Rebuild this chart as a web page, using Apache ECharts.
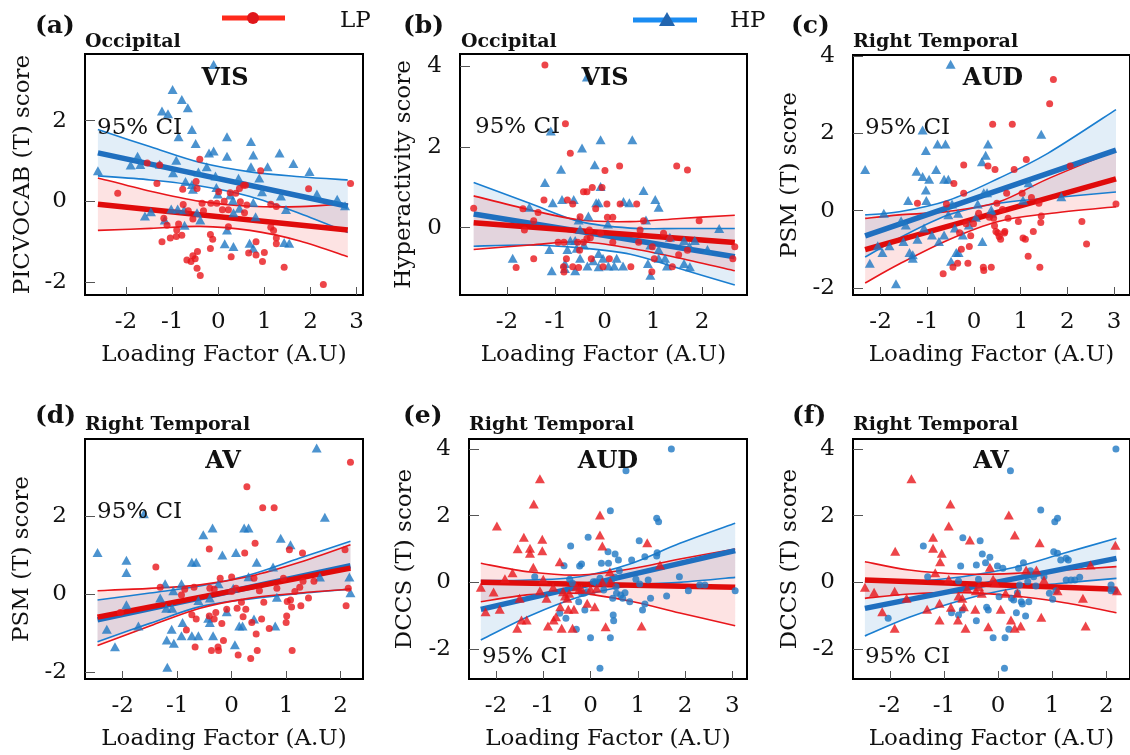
<!DOCTYPE html>
<html>
<head>
<meta charset="utf-8">
<script src="https://cdn.jsdelivr.net/npm/echarts@6/dist/echarts.min.js"></script>
<style>
  html, body { margin: 0; padding: 0; background: #fff; }
  #chart { width: 1130px; height: 755px; }
</style>
</head>
<body>
<div id="chart"></div>
<script>
// ---------- panel (a): Occipital / VIS, PICVOCAB ----------
const lpA = [[-2.18,0.20],[-1.54,0.95],[-1.33,0.44],[-1.27,0.90],[-1.22,-1.00],[-1.18,-0.42],[-1.11,-0.59],[-1.04,-0.91],[-0.91,-0.87],[-0.90,-0.71],[-0.86,-0.56],[-0.79,-0.84],[-0.77,0.30],[-0.76,-0.08],[-0.68,-1.45],[-0.59,-1.49],[-0.55,-1.35],[-0.50,-1.42],[-0.46,-1.66],[-0.39,-1.84],[-0.45,-1.24],[-0.65,-0.23],[-0.55,-0.44],[-0.48,0.49],[-0.46,0.32],[-0.40,1.04],[-0.35,-0.05],[-0.32,-0.23],[-0.17,-0.82],[-0.17,-1.17],[-0.12,-0.94],[-0.16,-0.05],[-0.03,-0.05],[0.01,0.24],[0.09,-0.21],[0.13,0.00],[0.22,-0.21],[0.22,-0.63],[0.26,0.21],[0.28,-1.37],[0.38,0.20],[0.46,0.32],[0.48,-0.01],[0.55,0.40],[0.59,0.40],[0.57,-0.28],[0.62,-0.09],[0.66,-1.28],[0.82,-1.33],[0.82,-1.00],[0.92,0.76],[0.96,-1.49],[1.00,-1.27],[1.14,-0.07],[1.14,-0.64],[1.20,-0.72],[1.26,-0.91],[1.26,-1.05],[1.26,-0.13],[1.43,-1.63],[1.96,0.31],[2.28,-2.06],[2.87,0.44]];
const hpA = [[-2.61,0.76],[-1.75,1.12],[-1.90,0.90],[-1.69,0.91],[-1.59,-0.36],[-1.46,-0.26],[-1.27,0.92],[-1.22,2.24],[-1.09,2.17],[-0.99,2.77],[-0.79,2.52],[-0.66,2.32],[-0.57,1.78],[-0.86,1.60],[-0.49,1.43],[-0.91,1.02],[-0.98,0.71],[-1.16,-0.46],[-1.02,-0.19],[-0.88,-0.19],[-0.74,-0.21],[-0.73,-0.59],[-0.57,0.42],[-0.55,0.30],[-0.46,-0.28],[-0.39,-0.46],[-0.43,0.73],[-0.25,0.86],[-0.20,1.20],[-0.10,1.25],[-0.10,3.39],[-0.06,0.63],[-0.04,0.34],[-0.01,0.18],[0.19,1.60],[0.19,1.12],[0.14,-1.05],[0.19,-0.71],[0.33,-1.12],[0.26,0.16],[0.32,0.03],[0.33,-0.28],[0.44,0.57],[0.46,-0.17],[0.71,1.48],[0.76,1.15],[0.71,0.86],[0.89,0.58],[0.95,0.24],[0.76,-0.03],[0.81,-0.38],[0.68,-1.04],[0.76,-1.16],[1.07,0.86],[1.33,1.20],[1.63,0.94],[1.36,0.13],[1.47,-0.20],[1.43,-1.02],[1.54,-1.04],[1.98,0.74],[2.14,0.18],[2.58,0.05],[2.75,-0.11],[-0.71,0.49]];
const ciXA = [-2.61,-1.47,-0.39,0.69,1.77,2.81];
const lpFitA = [-0.07,-0.71];
const lpUpperA = [0.58,0.25,0.00,-0.12,-0.13,-0.06];
const lpLowerA = [-0.72,-0.67,-0.62,-0.72,-0.98,-1.37];
const hpFitA = [1.20,-0.12];
const hpUpperA = [1.78,1.35,0.96,0.73,0.61,0.53];
const hpLowerA = [0.63,0.53,0.38,0.12,-0.30,-0.77];
const xTicksA = [-2,-1,0,1,2,3];
const yTicksA = [-2,0,2];

// ---------- panel (b): Occipital / VIS, Hyperactivity ----------
const lpB = [[-2.68,0.48],[-1.81,-0.99],[-1.67,0.47],[-1.64,-0.06],[-1.45,0.17],[-1.45,-0.77],[-1.36,0.38],[-1.24,0.69],[-1.22,4.04],[-0.95,-0.36],[-0.83,-0.36],[-0.80,2.58],[-0.78,-0.77],[-0.84,-0.97],[-0.83,-1.10],[-0.76,0.69],[-0.70,1.85],[-0.65,0.59],[-0.65,-0.97],[-0.55,-0.36],[-0.51,-0.56],[-0.50,0.27],[-0.53,-0.99],[-0.43,0.89],[-0.36,0.89],[-0.43,-0.36],[-0.36,-0.27],[-0.29,-0.25],[-0.31,-0.06],[-0.27,-0.77],[-0.25,1.00],[-0.18,0.47],[-0.08,-0.14],[-0.05,1.00],[0.01,1.42],[0.05,0.59],[0.06,0.26],[-0.03,-0.97],[0.10,-0.77],[0.17,0.26],[0.17,-0.36],[0.31,1.53],[0.32,0.59],[0.54,-0.97],[0.66,0.59],[0.70,-0.36],[0.73,-0.06],[0.80,0.17],[0.98,-0.47],[0.97,-1.09],[1.02,-0.77],[1.21,-0.14],[1.34,-0.27],[1.39,-0.97],[1.48,1.53],[1.52,-0.67],[1.70,1.43],[1.70,-0.56],[1.94,0.17],[2.63,-0.77],[2.67,-0.47]];
const hpB = [[-1.88,-0.76],[-1.54,0.51],[-1.22,1.12],[-1.13,-0.54],[-1.08,-1.07],[-1.10,2.40],[-1.06,0.62],[-0.89,1.45],[-0.87,0.70],[-0.81,-0.89],[-0.81,-1.01],[-0.76,-0.54],[-0.63,0.70],[-0.70,-0.32],[-0.60,-0.32],[-0.60,-1.07],[-0.57,-0.51],[-0.53,0.19],[-0.50,-0.04],[-0.46,1.98],[-0.50,-0.76],[-0.42,-0.43],[-0.35,-0.95],[-0.33,0.29],[-0.23,-0.82],[-0.20,1.56],[-0.17,0.62],[-0.12,0.62],[-0.12,-0.64],[-0.12,-0.97],[-0.08,2.18],[-0.08,1.02],[-0.03,-0.76],[0.07,0.09],[0.08,-0.95],[0.20,-0.95],[0.25,-0.76],[0.38,-0.95],[0.39,0.65],[0.51,0.62],[0.57,2.18],[0.80,0.92],[0.85,0.19],[0.89,-0.89],[0.94,-1.18],[0.94,-0.43],[1.04,0.70],[1.11,0.51],[1.11,-0.54],[1.11,-0.76],[1.24,-0.76],[1.28,-0.95],[1.34,-0.24],[1.63,-0.32],[1.63,-0.89],[1.75,-0.97],[1.85,-0.32],[2.11,-0.54],[2.35,-0.02],[1.74,-0.46],[-0.36,3.74]];
const ciXB = [-2.68,-1.52,-0.50,0.53,1.55,2.67];
const lpFitB = [0.12,-0.37];
const lpUpperB = [0.79,0.44,0.19,0.15,0.23,0.31];
const lpLowerB = [-0.54,-0.43,-0.35,-0.51,-0.76,-1.07];
const hpFitB = [0.34,-0.72];
const hpUpperB = [1.12,0.60,0.15,-0.01,-0.02,-0.02];
const hpLowerB = [-0.46,-0.43,-0.50,-0.66,-1.02,-1.42];
const xTicksB = [-2,-1,0,1,2];
const yTicksB = [0,2,4];

// ---------- panel (c): Right Temporal / AUD, PSM ----------
const lpC = [[-1.21,0.19],[-0.66,-1.63],[-0.59,0.17],[-0.45,-1.46],[-0.43,0.70],[-0.35,-1.36],[-0.27,-1.00],[-0.31,-0.57],[-0.22,1.18],[-0.22,0.45],[-0.13,-1.36],[-0.10,-0.93],[-0.07,-0.65],[-0.17,-0.34],[-0.01,-0.34],[0.10,-0.07],[0.20,-1.46],[0.21,-1.55],[0.30,1.15],[0.33,-0.17],[0.37,-1.46],[0.40,2.23],[0.42,-0.20],[0.45,1.06],[0.44,-0.39],[0.47,-0.54],[0.49,0.19],[0.51,-0.58],[0.54,-0.67],[0.57,-0.74],[0.61,0.03],[0.65,-0.58],[0.66,-0.54],[0.70,0.45],[0.73,-0.20],[0.82,2.23],[0.86,1.06],[0.95,-0.28],[1.03,0.45],[1.05,-0.71],[1.10,-0.74],[1.12,1.32],[1.16,-1.18],[1.23,0.34],[1.27,-0.54],[1.39,0.19],[1.41,-1.46],[1.44,-0.14],[1.43,-0.31],[1.62,2.76],[1.70,3.39],[2.06,1.15],[2.31,-0.28],[2.41,-0.86],[3.04,0.17]];
const hpC = [[-2.33,1.06],[-2.23,-1.36],[-2.06,-0.91],[-1.96,-1.08],[-1.93,-0.07],[-1.81,-0.91],[-1.67,-1.89],[-1.56,-0.26],[-1.51,-0.80],[-1.46,-0.37],[-1.41,0.26],[-1.38,-1.08],[-1.31,-1.23],[-1.31,-1.14],[-1.23,1.02],[-1.21,-0.74],[-1.10,0.88],[-1.07,-0.45],[-1.03,1.55],[-1.03,0.53],[-1.02,0.26],[-0.96,0.81],[-1.10,2.08],[-0.90,-0.63],[-0.81,1.06],[-0.78,1.72],[-0.75,-0.80],[-0.64,0.81],[-0.61,1.72],[-0.64,-0.63],[-0.55,0.81],[-0.50,3.78],[-0.55,-0.11],[-0.49,-1.31],[-0.47,0.17],[-0.41,-0.45],[-0.38,-1.08],[-0.33,-1.08],[-0.34,-0.07],[-0.24,-0.63],[-0.11,-0.37],[0.04,-0.17],[0.08,0.17],[0.17,1.26],[0.18,-0.80],[0.21,0.46],[0.25,1.43],[0.30,1.72],[0.28,0.46],[0.37,0.02],[0.38,-0.07],[1.17,0.72],[1.05,0.27],[1.44,1.97],[1.87,0.36]];
const ciXC = [-2.33,-1.60,-0.54,0.52,1.58,3.04];
const lpFitC = [-1.01,0.82];
const lpUpperC = [-0.20,-0.11,-0.02,0.22,0.82,1.55];
const lpLowerC = [-1.87,-1.38,-0.75,-0.28,-0.08,0.10];
const hpFitC = [-0.65,1.56];
const hpUpperC = [-0.11,-0.03,0.27,0.83,1.48,2.61];
const hpLowerC = [-1.20,-0.71,-0.11,0.19,0.32,0.48];
const xTicksC = [-2,-1,0,1,2,3];
const yTicksC = [-2,0,2,4];

// ---------- panel (d): Right Temporal / AV, PSM ----------
const lpD = [[-2.04,-0.47],[-1.39,0.70],[-1.31,0.18],[-0.92,-0.02],[-0.86,0.13],[-0.83,-0.92],[-0.73,-0.53],[-0.69,0.18],[-0.67,-1.36],[-0.65,-0.64],[-0.41,1.16],[-0.41,-0.56],[-0.40,0.15],[-0.37,-1.45],[-0.32,-0.64],[-0.32,0.13],[-0.29,-0.47],[-0.25,-1.36],[-0.24,-1.45],[-0.21,0.41],[-0.18,-0.75],[-0.15,-1.19],[-0.09,-0.39],[0.00,0.44],[0.00,0.07],[0.08,0.15],[0.10,-0.36],[0.12,-1.56],[0.18,-0.21],[0.21,-0.58],[0.24,1.06],[0.26,-0.39],[0.28,2.76],[0.35,-1.65],[0.37,-0.73],[0.41,0.41],[0.43,1.31],[0.45,-1.02],[0.47,-1.45],[0.51,0.09],[0.55,-0.64],[0.57,2.22],[0.59,-0.21],[0.69,-0.88],[0.78,2.22],[0.83,0.15],[0.95,0.41],[1.00,-0.73],[1.01,-0.56],[1.02,-0.19],[1.06,1.14],[1.08,-0.15],[1.10,-0.33],[1.11,-1.45],[1.16,0.07],[1.25,0.18],[1.27,-0.30],[1.31,0.33],[1.30,1.06],[1.41,-0.10],[1.51,0.33],[2.08,1.14],[2.10,-0.30],[2.14,0.15],[2.18,3.39]];
const hpD = [[-2.46,1.07],[-2.29,-0.90],[-2.14,-1.35],[-1.93,0.87],[-1.93,0.56],[-1.93,-0.27],[-1.71,-0.82],[-1.61,2.07],[-1.31,-0.10],[-1.22,0.27],[-1.20,-0.36],[-1.19,-1.18],[-1.18,-1.88],[-1.10,-0.90],[-1.09,-0.36],[-1.07,0.09],[-1.06,-1.26],[-0.92,0.27],[-0.92,-1.07],[-0.90,-0.73],[-0.73,0.82],[-0.65,0.82],[-0.73,-1.07],[-0.61,-1.07],[-0.61,-0.16],[-0.52,1.53],[-0.43,-0.62],[-0.40,-0.73],[-0.40,-0.10],[-0.35,1.70],[-0.34,-1.07],[-0.24,0.27],[-0.17,1.01],[-0.09,-0.45],[0.03,0.15],[0.06,-1.30],[0.08,1.07],[0.14,-0.82],[0.20,-0.82],[0.23,1.70],[0.31,1.70],[0.31,0.45],[0.41,-0.64],[0.46,0.82],[0.76,0.70],[0.80,-0.82],[0.83,-0.08],[0.90,1.44],[1.08,1.27],[1.56,3.76],[1.62,0.44],[1.71,1.98],[2.16,0.44],[2.18,0.04]];
const ciXD = [-2.46,-1.50,-0.58,0.34,1.25,2.18];
const lpFitD = [-0.59,0.67];
const lpUpperD = [0.09,0.15,0.24,0.46,0.82,1.27];
const lpLowerD = [-1.32,-0.82,-0.36,-0.10,0.03,0.13];
const hpFitD = [-0.66,0.73];
const hpUpperD = [-0.15,0.03,0.21,0.50,0.93,1.36];
const hpLowerD = [-1.22,-0.75,-0.32,-0.12,0.02,0.13];
const xTicksD = [-2,-1,0,1,2];
const yTicksD = [-2,0,2,4];

// ---------- panel (e): Right Temporal / AUD, DCCS ----------
const lpE = [[-2.32,-0.15],[-2.22,-0.88],[-2.05,-0.29],[-1.98,1.69],[-1.92,-0.81],[-1.81,0.11],[-1.65,0.29],[-1.55,-1.38],[-1.54,1.01],[-1.50,-0.48],[-1.46,-1.13],[-1.41,1.35],[-1.35,-1.13],[-1.28,1.02],[-1.28,0.87],[-1.21,0.45],[-1.20,2.35],[-1.07,3.11],[-1.07,-0.25],[-1.02,1.29],[-1.02,0.95],[-1.00,0.09],[-0.93,-0.48],[-0.90,-1.31],[-0.79,-0.15],[-0.78,-1.13],[-0.73,-1.03],[-0.65,0.62],[-0.64,-0.73],[-0.61,-1.38],[-0.58,-0.28],[-0.54,-0.41],[-0.49,-0.48],[-0.47,-0.81],[-0.45,-0.33],[-0.38,-1.38],[-0.35,-0.81],[-0.30,-0.13],[-0.24,-0.21],[-0.19,-0.21],[-0.07,-0.63],[0.00,-0.21],[0.09,-0.73],[0.13,-0.18],[0.20,2.02],[0.20,1.42],[0.25,1.09],[0.25,0.02],[0.32,-1.33],[0.41,0.32],[0.42,0.02],[1.08,-1.31],[1.20,1.19],[1.47,0.52]];
const hpE = [[-1.18,0.17],[-0.65,-0.93],[-0.56,0.50],[-0.52,-1.08],[-0.42,1.09],[-0.44,0.09],[-0.38,-0.03],[-0.30,-1.41],[-0.25,-0.58],[-0.23,0.49],[-0.19,0.55],[-0.19,-0.33],[-0.12,-0.83],[-0.14,-0.33],[-0.07,-0.28],[-0.05,1.35],[0.00,-1.66],[0.11,0.02],[0.13,-0.03],[0.20,-2.58],[0.23,0.57],[0.28,-0.23],[0.31,-0.03],[0.37,0.92],[0.38,0.57],[0.42,2.15],[0.42,-1.66],[0.45,0.09],[0.47,-0.48],[0.48,-0.98],[0.49,-1.15],[0.52,0.85],[0.52,0.15],[0.54,-0.13],[0.55,-0.33],[0.59,0.67],[0.61,0.35],[0.64,-0.38],[0.68,-0.48],[0.73,-0.31],[0.75,3.35],[0.83,-0.58],[0.87,0.67],[0.96,0.09],[1.03,1.25],[1.04,-0.05],[1.10,-0.83],[1.15,0.77],[1.15,-0.65],[1.22,0.07],[1.27,-0.48],[1.40,1.92],[1.44,1.82],[1.40,0.79],[1.41,0.89],[1.61,-0.41],[1.71,4.00],[1.88,0.17],[2.07,-0.25],[2.31,-0.08],[2.42,-0.08],[3.06,-0.25],[0.20,0.12],[0.06,0.02]];
const ciXE = [-2.32,-1.28,-0.23,0.83,1.89,3.06];
const lpFitE = [0.00,-0.15];
const lpUpperE = [0.57,0.31,0.22,0.40,0.70,1.00];
const lpLowerE = [-0.58,-0.37,-0.33,-0.56,-0.92,-1.30];
const hpFitE = [-0.81,0.95];
const hpUpperE = [0.05,0.07,0.17,0.55,1.17,1.77];
const hpLowerE = [-1.73,-1.00,-0.43,-0.10,0.00,0.15];
const xTicksE = [-2,-1,0,1,2,3];
const yTicksE = [-2,0,2,4];

// ---------- panel (f): Right Temporal / AV, DCCS ----------
const lpF = [[-2.46,-0.15],[-2.29,-0.30],[-2.14,-0.88],[-1.91,-0.27],[-1.91,-1.38],[-1.90,0.93],[-1.69,-0.48],[-1.60,3.11],[-1.31,-0.81],[-1.20,1.35],[-1.20,1.02],[-1.16,0.29],[-1.08,-0.63],[-1.08,-1.13],[-1.07,0.62],[-1.04,0.87],[-0.91,0.09],[-0.91,1.69],[-0.88,2.35],[-0.87,-0.75],[-0.74,-1.13],[-0.73,-0.41],[-0.66,-0.48],[-0.63,-0.73],[-0.60,-1.38],[-0.57,-0.18],[-0.52,1.27],[-0.42,-0.81],[-0.41,-0.25],[-0.35,-0.13],[-0.30,-0.33],[-0.18,-1.33],[-0.15,0.45],[-0.09,0.09],[-0.05,-0.01],[0.05,-0.81],[0.14,-0.33],[0.20,2.02],[0.24,-1.13],[0.31,1.42],[0.31,-1.38],[0.36,-0.33],[0.42,-1.31],[0.52,0.37],[0.71,0.37],[0.77,1.19],[0.80,-1.05],[0.85,0.07],[1.10,-0.25],[1.57,-0.48],[1.62,-1.31],[1.71,0.52],[2.17,1.11],[2.20,-0.25]];
const hpF = [[-2.03,-1.08],[-1.38,1.09],[-1.30,0.17],[-0.86,-0.91],[-0.73,0.04],[-0.73,-0.98],[-0.69,0.49],[-0.66,-0.83],[-0.65,1.34],[-0.40,0.52],[-0.40,-1.15],[-0.36,0.09],[-0.33,1.25],[-0.29,0.85],[-0.23,0.59],[-0.21,-0.75],[-0.18,-0.83],[-0.15,0.75],[-0.09,-1.66],[-0.01,0.49],[0.02,-0.43],[0.09,0.42],[0.12,-2.58],[0.13,-1.66],[0.20,-1.41],[0.23,3.35],[0.25,-0.48],[0.29,-0.53],[0.34,-0.91],[0.36,-0.31],[0.38,0.42],[0.40,-0.08],[0.43,-0.58],[0.45,-0.65],[0.47,0.59],[0.51,-1.01],[0.55,0.02],[0.57,-0.58],[0.60,0.35],[0.66,0.17],[0.70,-0.11],[0.79,2.17],[0.85,0.17],[0.95,-0.33],[1.01,-0.51],[1.03,0.92],[1.05,1.82],[1.07,-0.25],[1.10,1.92],[1.10,0.87],[1.16,0.67],[1.26,0.72],[1.30,0.67],[1.26,0.07],[1.35,0.07],[1.42,0.07],[1.51,0.15],[2.09,-0.08],[2.09,-0.25],[2.16,-0.25],[2.18,4.00]];
const ciXF = [-2.46,-1.64,-0.66,0.31,1.23,2.19];
const lpFitF = [0.07,-0.21];
const lpUpperF = [0.62,0.37,0.25,0.27,0.37,0.47];
const lpLowerF = [-0.48,-0.35,-0.31,-0.41,-0.61,-0.91];
const hpFitF = [-0.78,0.72];
const hpUpperF = [0.02,0.02,0.17,0.45,0.88,1.32];
const hpLowerF = [-1.61,-1.05,-0.53,-0.18,-0.02,0.12];
const xTicksF = [-2,-1,0,1,2];
const yTicksF = [-2,0,2,4];

// ---------- panel texts ----------
const panelLetters = ['(a)','(b)','(c)','(d)','(e)','(f)'];
const regionNames = ['Occipital','Occipital','Right Temporal','Right Temporal','Right Temporal','Right Temporal'];
const networkNames = ['VIS','VIS','AUD','AV','AUD','AV'];
const yAxisNames = ['PICVOCAB (T) score','Hyperactivity score','PSM (T) score','PSM (T) score','DCCS (T) score','DCCS (T) score'];
const xAxisName = 'Loading Factor (A.U)';
const groupNames = ['LP','HP'];

const panelData = [
  { lp: lpA, hp: hpA, ciX: ciXA, lpFit: lpFitA, lpUp: lpUpperA, lpLo: lpLowerA, hpFit: hpFitA, hpUp: hpUpperA, hpLo: hpLowerA, xt: xTicksA, yt: yTicksA },
  { lp: lpB, hp: hpB, ciX: ciXB, lpFit: lpFitB, lpUp: lpUpperB, lpLo: lpLowerB, hpFit: hpFitB, hpUp: hpUpperB, hpLo: hpLowerB, xt: xTicksB, yt: yTicksB },
  { lp: lpC, hp: hpC, ciX: ciXC, lpFit: lpFitC, lpUp: lpUpperC, lpLo: lpLowerC, hpFit: hpFitC, hpUp: hpUpperC, hpLo: hpLowerC, xt: xTicksC, yt: yTicksC },
  { lp: lpD, hp: hpD, ciX: ciXD, lpFit: lpFitD, lpUp: lpUpperD, lpLo: lpLowerD, hpFit: hpFitD, hpUp: hpUpperD, hpLo: hpLowerD, xt: xTicksD, yt: yTicksD },
  { lp: lpE, hp: hpE, ciX: ciXE, lpFit: lpFitE, lpUp: lpUpperE, lpLo: lpLowerE, hpFit: hpFitE, hpUp: hpUpperE, hpLo: hpLowerE, xt: xTicksE, yt: yTicksE },
  { lp: lpF, hp: hpF, ciX: ciXF, lpFit: lpFitF, lpUp: lpUpperF, lpLo: lpLowerF, hpFit: hpFitF, hpUp: hpUpperF, hpLo: hpLowerF, xt: xTicksF, yt: yTicksF }
];

// ---------- layout & style ----------
const FONT = '"DejaVu Serif", serif';
const RED = '#e8161b', BLUE = '#1f78c3';
const RED_FIT = '#e00b0b', BLUE_FIT = '#1f6fbf';
const RED_CI = '#e8161b', BLUE_CI = '#1a7ed0';
const RED_FILL = 'rgba(240,40,40,0.13)', BLUE_FILL = 'rgba(31,125,200,0.13)';

const layout = [
  { left: 85,  top: 54,  width: 278, height: 241, x: [-2.89, 3.14], y: [-2.32, 3.65], yGap: 50, lpSym: 'circle', hpSym: 'triangle',
    letter: [35, 26], region: [85, 42], net: [225, 79], ci: [97, 128] },
  { left: 460, top: 54,  width: 287, height: 241, x: [-2.96, 2.92], y: [-1.67, 4.31], yGap: 44, lpSym: 'circle', hpSym: 'triangle',
    letter: [403, 26], region: [461, 42], net: [605, 79], ci: [475, 127] },
  { left: 853, top: 55,  width: 280, height: 240, x: [-2.59, 3.34], y: [-2.18, 4.02], yGap: 51, lpSym: 'circle', hpSym: 'triangle',
    letter: [791, 26], region: [853, 42], net: [993, 79], ci: [865, 128] },
  { left: 85,  top: 439, width: 278, height: 240, x: [-2.69, 2.41], y: [-2.18, 3.99], yGap: 51, lpSym: 'circle', hpSym: 'triangle',
    letter: [35, 416], region: [85, 425], net: [223, 462], ci: [97, 512] },
  { left: 469, top: 439, width: 278, height: 240, x: [-2.57, 3.31], y: [-2.90, 4.30], yGap: 52, lpSym: 'triangle', hpSym: 'circle',
    letter: [403, 416], region: [469, 425], net: [608, 462], ci: [482, 657] },
  { left: 853, top: 439, width: 280, height: 240, x: [-2.68, 2.44], y: [-2.90, 4.30], yGap: 51, lpSym: 'triangle', hpSym: 'circle',
    letter: [792, 416], region: [853, 425], net: [991, 462], ci: [865, 657] }
];

// Catmull-Rom curve through pixel points as cubic bezier segments
function curveSegs(pts) {
  let d = '';
  const n = pts.length;
  for (let i = 0; i < n - 1; i++) {
    const p0 = pts[Math.max(i - 1, 0)], p1 = pts[i], p2 = pts[i + 1], p3 = pts[Math.min(i + 2, n - 1)];
    const c = [p1[0] + (p2[0] - p0[0]) / 6, p1[1] + (p2[1] - p0[1]) / 6,
               p2[0] - (p3[0] - p1[0]) / 6, p2[1] - (p3[1] - p1[1]) / 6, p2[0], p2[1]];
    d += ' C' + c.map(v => v.toFixed(2)).join(' ');
  }
  return d;
}
function moveTo(p) { return 'M' + p[0].toFixed(2) + ' ' + p[1].toFixed(2); }

// Confidence band: filled region between lower and upper bounds plus both bound curves
function bandRenderer(fill, stroke) {
  return function (params, api) {
    if (params.dataIndexInside !== 0) return null;
    const n = params.dataInsideLength;
    const up = [], lo = [];
    for (let j = 0; j < n; j++) {
      const x = api.value(0, j);
      lo.push(api.coord([x, api.value(1, j)]));
      up.push(api.coord([x, api.value(2, j)]));
    }
    const loRev = lo.slice().reverse();
    const area = moveTo(up[0]) + curveSegs(up) + ' L' + loRev[0][0].toFixed(2) + ' ' + loRev[0][1].toFixed(2) + curveSegs(loRev) + ' Z';
    return {
      type: 'group',
      children: [
        { type: 'path', z2: 0, shape: { pathData: area }, style: { fill: fill, stroke: null } },
        { type: 'path', z2: 10, shape: { pathData: moveTo(up[0]) + curveSegs(up) }, style: { fill: null, stroke: stroke, lineWidth: 1.6 } },
        { type: 'path', z2: 10, shape: { pathData: moveTo(lo[0]) + curveSegs(lo) }, style: { fill: null, stroke: stroke, lineWidth: 1.6 } }
      ]
    };
  };
}

const grids = [], xAxes = [], yAxes = [], series = [], graphics = [];

panelData.forEach((p, i) => {
  const L = layout[i];
  grids.push({ left: L.left, top: L.top, width: L.width, height: L.height, show: true,
               borderColor: '#000', borderWidth: 2, backgroundColor: 'transparent' });
  xAxes.push({
    type: 'value', gridIndex: i, min: L.x[0], max: L.x[1], position: 'bottom',
    name: xAxisName, nameLocation: 'middle', nameGap: 49,
    nameTextStyle: { fontFamily: FONT, fontSize: 23, color: '#111' },
    axisLine: { show: false, onZero: false },
    axisTick: { show: true, inside: true, length: 8, customValues: p.xt, lineStyle: { color: '#555', width: 1 } },
    axisLabel: { customValues: p.xt, margin: 16, fontFamily: FONT, fontSize: 23, color: '#111' },
    splitLine: { show: false }
  });
  yAxes.push({
    type: 'value', gridIndex: i, min: L.y[0], max: L.y[1], position: 'left',
    name: yAxisNames[i], nameLocation: 'middle', nameGap: L.yGap, nameRotate: 90,
    nameTextStyle: { fontFamily: FONT, fontSize: 23, color: '#111' },
    axisLine: { show: false, onZero: false },
    axisTick: { show: true, inside: true, length: 10, customValues: p.yt, lineStyle: { color: '#555', width: 1 } },
    axisLabel: { customValues: p.yt, margin: 18, fontFamily: FONT, fontSize: 23, color: '#111' },
    splitLine: { show: false }
  });

  const n = p.ciX.length;
  const bands = [
    { fill: BLUE_FILL, stroke: BLUE_CI, up: p.hpUp, lo: p.hpLo, name: 'HP CI' },
    { fill: RED_FILL, stroke: RED_CI, up: p.lpUp, lo: p.lpLo, name: 'LP CI' }
  ];
  bands.forEach(b => {
    series.push({
      type: 'custom', name: b.name, xAxisIndex: i, yAxisIndex: i, z: 2, silent: true,
      renderItem: bandRenderer(b.fill, b.stroke),
      encode: { x: 0, y: [1, 2] },
      data: p.ciX.map((x, j) => [x, b.lo[j], b.up[j]])
    });
  });

  series.push({
    type: 'line', name: 'HP fit', xAxisIndex: i, yAxisIndex: i, z: 3, symbol: 'none', silent: true,
    lineStyle: { color: BLUE_FIT, width: 5.5 },
    data: [[p.ciX[0], p.hpFit[0]], [p.ciX[n - 1], p.hpFit[1]]]
  });
  series.push({
    type: 'line', name: 'LP fit', xAxisIndex: i, yAxisIndex: i, z: 3, symbol: 'none', silent: true,
    lineStyle: { color: RED_FIT, width: 5.5 },
    data: [[p.ciX[0], p.lpFit[0]], [p.ciX[n - 1], p.lpFit[1]]]
  });

  const symSize = s => (s === 'triangle' ? [10, 9] : 7);
  series.push({
    type: 'scatter', name: groupNames[1], xAxisIndex: i, yAxisIndex: i, z: 4, silent: true,
    symbol: L.hpSym, symbolSize: symSize(L.hpSym), itemStyle: { color: BLUE },
    data: p.hp
  });
  series.push({
    type: 'scatter', name: groupNames[0], xAxisIndex: i, yAxisIndex: i, z: 5, silent: true,
    symbol: L.lpSym, symbolSize: symSize(L.lpSym), itemStyle: { color: RED },
    data: p.lp
  });

  // panel annotations
  graphics.push({ type: 'text', x: L.letter[0], y: L.letter[1], z: 50,
    style: { text: panelLetters[i], font: 'bold 25px ' + FONT, fill: '#111', align: 'left', verticalAlign: 'middle' } });
  graphics.push({ type: 'text', x: L.region[0], y: L.region[1], z: 50,
    style: { text: regionNames[i], font: 'bold 19px ' + FONT, fill: '#111', align: 'left', verticalAlign: 'middle' } });
  graphics.push({ type: 'text', x: L.net[0], y: L.net[1], z: 50,
    style: { text: networkNames[i], font: 'bold 24px ' + FONT, fill: '#111', align: 'center', verticalAlign: 'middle' } });
  graphics.push({ type: 'text', x: L.ci[0], y: L.ci[1], z: 50,
    style: { text: '95% CI', font: '23px ' + FONT, fill: '#111', align: 'left', verticalAlign: 'middle' } });
});

// legend keys
graphics.push({ type: 'line', z: 50, shape: { x1: 222, y1: 18, x2: 285, y2: 18 }, style: { stroke: '#ff2a1c', lineWidth: 5 } });
graphics.push({ type: 'circle', z: 51, shape: { cx: 253, cy: 18, r: 6 }, style: { fill: '#e0161b' } });
graphics.push({ type: 'text', x: 340, y: 21, z: 50, style: { text: groupNames[0], font: '23px ' + FONT, fill: '#111', align: 'left', verticalAlign: 'middle' } });
graphics.push({ type: 'line', z: 50, shape: { x1: 633, y1: 20, x2: 697, y2: 20 }, style: { stroke: '#1a8cf2', lineWidth: 5 } });
graphics.push({ type: 'polygon', z: 51, shape: { points: [[667, 12], [675, 26], [659, 26]] }, style: { fill: '#2266b0' } });
graphics.push({ type: 'text', x: 730, y: 21, z: 50, style: { text: groupNames[1], font: '23px ' + FONT, fill: '#111', align: 'left', verticalAlign: 'middle' } });

const chart = echarts.init(document.getElementById('chart'), null, { renderer: 'canvas' });
chart.setOption({
  animation: false,
  backgroundColor: '#fff',
  grid: grids,
  xAxis: xAxes,
  yAxis: yAxes,
  series: series,
  graphic: graphics
});
</script>
</body>
</html>
